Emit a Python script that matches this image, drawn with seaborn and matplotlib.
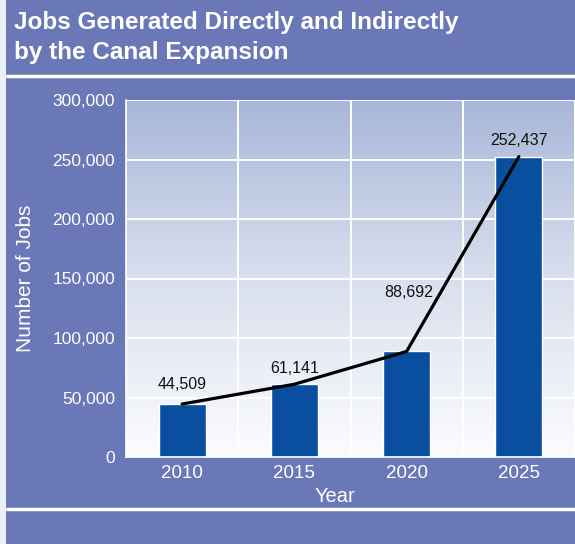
import matplotlib
matplotlib.use('Agg')
import matplotlib.pyplot as plt
from matplotlib.colors import LinearSegmentedColormap
from matplotlib.lines import Line2D
from matplotlib.patches import Rectangle
import numpy as np
import pandas as pd
import seaborn as sns

# chart data
years = ['2010', '2015', '2020', '2025']
jobs = [44509, 61141, 88692, 252437]
jobs_labels = ['44,509', '61,141', '88,692', '252,437']

df = pd.DataFrame({'Year': years, 'Jobs': jobs})

bg = '#6a78b8'
bar_col = '#0a4f9f'

sns.set_style('white')
plt.rcParams['font.family'] = ['Liberation Sans', 'DejaVu Sans']

fig = plt.figure(figsize=(5.75, 5.44), dpi=100, facecolor=bg)
ax = fig.add_axes([126 / 575, 1 - 457 / 544, 449 / 575, 357 / 544])

# gradient plot background
grad = LinearSegmentedColormap.from_list('bgrad', ['#fbfcfe', '#d9dfee', '#a8b7d9'])
ax.imshow(np.linspace(0, 1, 256).reshape(-1, 1), extent=[-0.5, 3.5, 0, 300000],
          origin='lower', aspect='auto', cmap=grad, zorder=-2)

sns.barplot(data=df, x='Year', y='Jobs', color=bar_col, width=0.42, saturation=1,
            ax=ax, zorder=2)
sns.lineplot(x=np.arange(len(years)), y=jobs, color='black', linewidth=2.3, ax=ax, zorder=3)

# labels above the bars (offsets in pixels)
label_offsets = [(0, 20), (0, 16), (2, 59), (0, 16)]
for i, (v, lab) in enumerate(zip(jobs, jobs_labels)):
    ax.annotate(lab, xy=(i, v), xytext=label_offsets[i], textcoords='offset pixels',
                ha='center', va='center', fontsize=11.5, color='#111111', zorder=4)

ax.set_xlim(-0.5, 3.5)
ax.set_ylim(0, 300000)
ax.set_yticks(range(0, 300001, 50000))
ax.set_yticklabels(['{:,}'.format(t) for t in range(0, 300001, 50000)])
ax.set_xticks(np.arange(-0.5, 3.6, 1.0), minor=True)

ax.grid(True, which='major', axis='y', color='white', linewidth=1.4)
ax.grid(True, which='minor', axis='x', color='white', linewidth=1.4)
ax.set_axisbelow(True)

ax.tick_params(axis='x', which='major', length=0, labelsize=13.5, colors='white', pad=6)
ax.tick_params(axis='x', which='minor', length=6, width=1.2, color='white', direction='out')
ax.tick_params(axis='y', which='major', length=5, width=1.2, color='white',
               labelsize=12.5, labelcolor='white', pad=3)

for s in ['top', 'right']:
    ax.spines[s].set_visible(False)
for s in ['left', 'bottom']:
    ax.spines[s].set_color('white')
    ax.spines[s].set_linewidth(1.2)

ax.set_ylabel('Number of Jobs', color='white', fontsize=15, labelpad=12)
ax.set_xlabel('Year', color='white', fontsize=14.5, labelpad=0)
ax.xaxis.set_label_coords(0.465, -0.084)

# title band and frame lines
fig.text(14 / 575, 1 - 11 / 544, 'Jobs Generated Directly and Indirectly\nby the Canal Expansion',
         ha='left', va='top', fontsize=17.5, fontweight='bold', color='white', linespacing=1.38)
fig.add_artist(Line2D([7 / 575, 1], [1 - 76 / 544] * 2, color='white', linewidth=2.5))
fig.add_artist(Line2D([7 / 575, 1], [1 - 509 / 544] * 2, color='white', linewidth=2.5))
fig.add_artist(Rectangle((0, 0), 6 / 575, 1, transform=fig.transFigure,
                         facecolor='#eef0f7', edgecolor='none'))

fig.savefig('out.png', dpi=100, facecolor=bg)
